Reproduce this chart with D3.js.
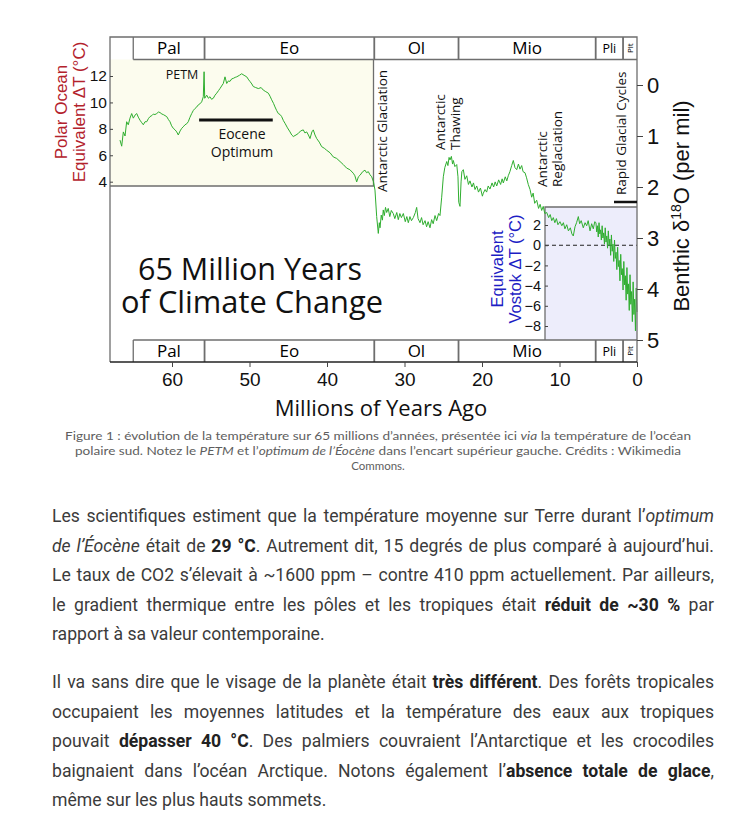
<!DOCTYPE html>
<html><head><meta charset="utf-8">
<script src="https://cdn.jsdelivr.net/npm/d3@7"></script>
<style>
body{margin:0;background:#fff;width:755px;height:833px;overflow:hidden;position:relative}
svg{position:absolute;left:0;top:0}
.para{position:absolute;left:52px;width:662px;font-family:Roboto,sans-serif;font-size:17.6px;color:#3b3b3b;line-height:29.6px}
.para div{text-align:justify;text-align-last:justify;white-space:nowrap}
.para div.last{text-align-last:left}
.para b{color:#222;font-weight:700}
</style></head>
<body>
<svg id="chart" width="755" height="480"></svg>
<div class="para" style="top:502px">
<div>Les scientifiques estiment que la température moyenne sur Terre durant l’<i>optimum</i></div>
<div><i>de l’Éocène</i> était de <b>29 °C</b>. Autrement dit, 15 degrés de plus comparé à aujourd’hui.</div>
<div>Le taux de CO2 s’élevait à ~1600 ppm – contre 410 ppm actuellement. Par ailleurs,</div>
<div>le gradient thermique entre les pôles et les tropiques était <b>réduit de ~30 %</b> par</div>
<div class="last">rapport à sa valeur contemporaine.</div>
</div>
<div class="para" style="top:668px">
<div>Il va sans dire que le visage de la planète était <b>très différent</b>. Des forêts tropicales</div>
<div>occupaient les moyennes latitudes et la température des eaux aux tropiques</div>
<div>pouvait <b>dépasser 40 °C</b>. Des palmiers couvraient l’Antarctique et les crocodiles</div>
<div>baignaient dans l’océan Arctique. Notons également l’<b>absence totale de glace</b>,</div>
<div class="last">même sur les plus hauts sommets.</div>
</div>
<script>
// ---------- DATA ----------
// Benthic δ18O record (per mil), [age Ma, value]
const paleoceneEocene = [[66.71,1.08],[66.49,1.20],[66.28,0.92],[66.06,1.00],[65.85,0.72],[65.64,0.78],[65.42,0.65],[65.20,0.56],[64.99,0.65],[64.77,0.59],[64.55,0.56],[64.35,0.63],[64.13,0.69],[63.9,0.74],[63.70,0.78],[63.48,0.72],[63.26,0.72],[63.05,0.66],[62.84,0.62],[62.6,0.60],[62.41,0.57],[62.2,0.58],[61.97,0.56],[61.75,0.53],[61.55,0.54],[61.3,0.57],[61.12,0.58],[60.9,0.60],[60.68,0.62],[60.45,0.68],[60.26,0.72],[60.05,0.80],[59.83,0.85],[59.6,0.88],[59.39,0.92],[59.19,0.98],[58.95,0.90],[58.75,0.85],[58.55,0.82],[58.32,0.78],[58.1,0.76],[57.90,0.72],[57.7,0.64],[57.46,0.56],[57.25,0.50],[57.03,0.46],[56.8,0.43],[56.61,0.39],[56.4,0.37],[56.17,0.33],[55.96,0.23],[55.86,-0.26],[55.78,0.26],[55.52,0.20],[55.3,0.26],[55.10,0.23],[54.9,0.28],[54.67,0.26],[54.45,0.20],[54.23,0.16],[54.0,0.11],[53.81,0.07],[53.6,0.02],[53.38,-0.03],[53.16,-0.16],[52.94,-0.03],[52.72,-0.08],[52.52,-0.07],[52.3,-0.12],[52.09,-0.13],[51.85,-0.15],[51.65,-0.16],[51.3,-0.19],[51.01,-0.22],[50.7,-0.19],[50.36,-0.16],[50.1,-0.10],[49.94,-0.07],[49.7,-0.02],[49.51,0.03],[49.2,0.05],[48.86,0.07],[48.5,0.05],[48.22,0.10],[47.9,0.13],[47.57,0.16],[47.35,0.22],[47.14,0.29],[46.9,0.36],[46.71,0.43],[46.5,0.50],[46.28,0.56],[46.05,0.58],[45.85,0.62],[45.62,0.70],[45.42,0.75],[45.1,0.84],[44.77,0.92],[44.55,0.98],[44.35,1.01],[44.0,0.98],[43.70,0.95],[43.4,0.90],[43.06,0.88],[42.85,0.94],[42.62,0.92],[42.4,0.98],[42.19,1.05],[41.95,0.92],[41.77,0.88],[41.55,0.98],[41.33,1.05],[41.0,1.12],[40.68,1.21],[40.35,1.24],[40.04,1.28],[39.6,1.33],[39.19,1.41],[38.75,1.44],[38.32,1.50],[37.9,1.56],[37.46,1.63],[37.05,1.66],[36.61,1.73],[36.4,1.78],[36.17,1.90],[35.95,1.80],[35.74,1.77],[35.4,1.70],[35.10,1.67],[34.9,1.72],[34.67,1.70],[34.45,1.76],[34.23,1.80],[34.0,1.90],[33.81,2.06]];
const oligocene = [[33.59,2.58],[33.38,2.91],[33.25,2.70],[33.16,2.80],[33.0,2.55],[32.85,2.65],[32.74,2.45],[32.6,2.56],[32.45,2.40],[32.3,2.50],[32.1,2.42],[31.9,2.58],[31.7,2.46],[31.45,2.52],[31.25,2.62],[31.0,2.50],[30.8,2.64],[30.6,2.52],[30.4,2.60],[30.15,2.52],[29.9,2.68],[29.7,2.58],[29.51,2.70],[29.3,2.58],[29.1,2.66],[28.86,2.60],[28.6,2.50],[28.43,2.40],[28.25,2.62],[28.0,2.70],[27.8,2.60],[27.6,2.74],[27.35,2.66],[27.15,2.78],[26.95,2.68],[26.71,2.80],[26.5,2.64],[26.3,2.72],[26.06,2.56],[25.85,2.66],[25.6,2.52],[25.42,2.56],[25.2,2.20],[24.99,1.80],[24.8,1.62],[24.55,1.50],[24.4,1.58],[24.25,1.42],[24.13,1.47],[23.95,1.40],[23.8,1.55],[23.70,1.48],[23.5,1.60],[23.26,1.56],[23.1,1.80]];
const miocene = [[23.0,2.30],[22.84,2.38],[22.7,1.90],[22.6,1.70],[22.41,1.66],[22.2,1.85],[21.97,1.78],[21.75,1.95],[21.55,1.88],[21.3,2.00],[21.1,1.92],[20.9,2.05],[20.68,1.98],[20.45,2.10],[20.2,2.02],[19.95,2.18],[19.83,2.12],[19.6,2.05],[19.4,2.10],[19.2,1.98],[18.97,2.04],[18.7,1.92],[18.5,2.00],[18.3,1.90],[18.10,1.98],[17.85,1.86],[17.6,1.95],[17.4,1.84],[17.25,1.92],[17.0,1.80],[16.8,1.88],[16.61,1.78],[16.4,1.70],[16.17,1.58],[15.96,1.48],[15.75,1.62],[15.52,1.66],[15.3,1.55],[15.1,1.65],[14.88,1.58],[14.7,1.70],[14.45,1.72],[14.25,1.82],[14.03,1.95],[13.8,2.05],[13.59,2.20],[13.4,2.12],[13.2,2.32],[12.94,2.26],[12.7,2.42],[12.5,2.34],[12.30,2.46],[12.1,2.38],[11.9,2.52],[11.65,2.50],[11.4,2.60],[11.2,2.54],[11.0,2.66],[10.80,2.60],[10.6,2.70],[10.4,2.62],[10.2,2.74],[9.94,2.68],[9.7,2.76],[9.5,2.70],[9.3,2.82],[9.07,2.74],[8.85,2.86],[8.6,2.80],[8.4,2.92],[8.22,2.96],[8.0,2.78],[7.8,2.70],[7.57,2.58],[7.4,2.72],[7.2,2.66],[6.93,2.80],[6.7,2.70],[6.49,2.76],[6.3,2.66],[6.06,2.86],[5.85,2.72],[5.64,2.82],[5.45,2.68]];
const plioPleistocene = [[5.3,2.70],[5.2,2.88],[5.1,2.76],[5.0,2.98],[4.9,2.70],[4.8,2.92],[4.7,2.84],[4.6,3.04],[4.5,2.76],[4.4,3.00],[4.3,2.90],[4.2,3.12],[4.1,2.80],[4.0,3.08],[3.9,2.96],[3.8,3.20],[3.7,2.86],[3.6,3.14],[3.5,3.02],[3.4,3.34],[3.3,2.94],[3.2,3.26],[3.1,3.12],[3.0,3.46],[2.9,3.04],[2.8,3.40],[2.7,3.28],[2.6,3.62],[2.5,3.18],[2.4,3.56],[2.3,3.44],[2.2,3.84],[2.1,3.32],[2.0,3.72],[1.9,3.60],[1.8,4.02],[1.7,3.46],[1.6,3.92],[1.5,3.74],[1.4,4.22],[1.3,3.58],[1.2,4.10],[1.1,3.90],[1.0,4.42],[0.9,3.72],[0.8,4.30],[0.7,4.05],[0.6,4.64],[0.5,3.86],[0.4,4.50],[0.3,4.20],[0.2,4.82],[0.1,3.98],[0.0,4.45]];

const epochNames = ["Pal","Eo","Ol","Mio","Pli","Plt"];
const epochStarts = [65, 55.8, 33.9, 23.03, 5.33, 1.8];
const epochEnds   = [55.8, 33.9, 23.03, 5.33, 1.8, 0];
const ageTicks = [60,50,40,30,20,10,0];
const d18OTicks = [0,1,2,3,4,5];
const polarTicks = [4,6,8,10,12];
const vostokTicks = [2,0,-2,-4,-6,-8];
const annotations = [
  {lines:["Antarctic Glaciation"], age:32.3, base:192},
  {lines:["Antarctic","Thawing"], age:24.8, base:150},
  {lines:["Antarctic","Reglaciation"], age:11.6, base:187},
  {lines:["Rapid Glacial Cycles"], age:1.4, base:195}
];

// ---------- CHART ----------
const svg = d3.select("#chart");
const L=110, R=637, T=37, B=362;
const x = d3.scaleLinear().domain([60,0]).range([172,637]);
const yD = d3.scaleLinear().domain([0,5]).range([85,340]);
const yT = d3.scaleLinear().domain([4,12]).range([181.7,76]);
const yV = d3.scaleLinear().domain([-8,2]).range([326,225]);
const numFont = "'Liberation Sans', Arial, sans-serif";
const myFont = "'Open Sans', sans-serif";
const frameC = "#6e6e6e";

// insets
svg.append("rect").attr("x",L).attr("y",59.5).attr("width",x(34)-L).attr("height",186-59.5).attr("fill","#fcfcee");
svg.append("path").attr("d",`M${x(34)},59.5V186H${L}`).attr("fill","none").attr("stroke",frameC).attr("stroke-width",1.3);
svg.append("rect").attr("x",545).attr("y",207).attr("width",R-545).attr("height",340-207).attr("fill","#ededfb");
svg.append("path").attr("d",`M545,340V207H${R}`).attr("fill","none").attr("stroke",frameC).attr("stroke-width",1.3);
svg.append("line").attr("x1",545).attr("x2",R).attr("y1",yV(0)).attr("y2",yV(0)).attr("stroke","#222").attr("stroke-dasharray","4,3").attr("stroke-width",1.1);

// data line
const all = paleoceneEocene.concat(oligocene, miocene, plioPleistocene);
const line = d3.line().x(d=>x(d[0])).y(d=>yD(d[1]));
svg.append("path").datum(all).attr("d",line).attr("fill","none").attr("stroke","#2fae2f").attr("stroke-width",1).attr("stroke-linejoin","round");

// frame
svg.append("path").attr("d",`M${L},${B}V${T}H${R}V${B}`).attr("fill","none").attr("stroke",frameC).attr("stroke-width",1.3);

// epoch bars
function epochBar(y0,y1){
  const g = svg.append("g");
  const x0 = x(epochStarts[0]);
  g.append("line").attr("x1",x0).attr("x2",R).attr("y1",y0===T?y1:y0).attr("y2",y0===T?y1:y0).attr("stroke",frameC).attr("stroke-width",1.3);
  epochStarts.forEach((s,i)=>{
    g.append("line").attr("x1",x(s)).attr("x2",x(s)).attr("y1",y0).attr("y2",y1).attr("stroke",frameC).attr("stroke-width",i===0?1.3:1.8);
    const cx = (x(s)+x(epochEnds[i]))/2, cy=(y0+y1)/2;
    const name = epochNames[i];
    if(name==="Plt"){
      g.append("text").attr("transform",`translate(${cx+3},${cy}) rotate(-90)`).attr("text-anchor","middle")
       .attr("font-family",myFont).attr("font-size",8).text(name);
    } else {
      g.append("text").attr("x",cx).attr("y",cy+ (name==="Pli"?4.5:6)).attr("text-anchor","middle")
       .attr("font-family",myFont).attr("font-size",name==="Pli"?12.5:17).text(name);
    }
  });
}
epochBar(T,59.5);
epochBar(340,B);
svg.append("line").attr("x1",L).attr("x2",R).attr("y1",B).attr("y2",B).attr("stroke","#222").attr("stroke-width",1.3);

// axes
const ax = svg.append("g").attr("transform",`translate(0,${B})`)
  .call(d3.axisBottom(x).tickValues(ageTicks).tickSize(5).tickPadding(6).tickFormat(d3.format("d")));
ax.select(".domain").remove();
ax.selectAll("text").attr("font-family",numFont).attr("font-size",19).attr("fill","#111");
ax.selectAll("line").attr("stroke","#444");

const ar = svg.append("g").attr("transform",`translate(${R},0)`)
  .call(d3.axisRight(yD).tickValues(d18OTicks).tickSize(6).tickPadding(4).tickFormat(d3.format("d")));
ar.select(".domain").remove();
ar.selectAll("text").attr("font-family",numFont).attr("font-size",22).attr("fill","#111");
ar.selectAll("line").attr("stroke","#444");

const al = svg.append("g").attr("transform",`translate(${L},0)`)
  .call(d3.axisLeft(yT).tickValues(polarTicks).tickSizeInner(-3).tickSizeOuter(0).tickPadding(3).tickFormat(d3.format("d")));
al.select(".domain").remove();
al.selectAll("text").attr("font-family",numFont).attr("font-size",15.5).attr("fill","#111");
al.selectAll("line").attr("stroke","#444");

const av = svg.append("g").attr("transform",`translate(545,0)`)
  .call(d3.axisLeft(yV).tickValues(vostokTicks).tickSizeInner(-3).tickSizeOuter(0).tickPadding(4).tickFormat(d3.format("d")));
av.select(".domain").remove();
av.selectAll("text").attr("font-family",numFont).attr("font-size",14.5).attr("fill","#111");
av.selectAll("line").attr("stroke","#444");

// axis titles
svg.append("text").attr("x",381).attr("y",416).attr("text-anchor","middle").attr("font-family",myFont).attr("font-size",22).attr("fill","#111").text("Millions of Years Ago");
const polar = svg.append("g").attr("fill","#b3222c").attr("font-family",numFont).attr("font-size",17).attr("text-anchor","middle");
polar.append("text").attr("transform","translate(67,112) rotate(-90)").text("Polar Ocean");
polar.append("text").attr("transform","translate(85,112) rotate(-90)").text("Equivalent  ΔT (°C)");
const vost = svg.append("g").attr("fill","#1d1dc4").attr("font-family",numFont).attr("font-size",16.5).attr("text-anchor","middle");
vost.append("text").attr("transform","translate(503,269) rotate(-90)").text("Equivalent");
vost.append("text").attr("transform","translate(521,269) rotate(-90)").text("Vostok  ΔT (°C)");
const ben = svg.append("text").attr("transform","translate(689,206) rotate(-90)").attr("text-anchor","middle").attr("font-family",numFont).attr("font-size",22).attr("fill","#111");
ben.append("tspan").text("Benthic δ");
ben.append("tspan").attr("dy",-8).attr("font-size",14).text("18");
ben.append("tspan").attr("dy",8).text("O (per mil)");

// annotations
annotations.forEach(a=>{
  a.lines.forEach((t,i)=>{
    svg.append("text").attr("transform",`translate(${x(a.age)+i*15},${a.base}) rotate(-90)`)
      .attr("font-family",myFont).attr("font-size",13.5).attr("fill","#111").text(t);
  });
});
svg.append("line").attr("x1",614).attr("x2",R).attr("y1",202).attr("y2",202).attr("stroke","#111").attr("stroke-width",2.5);
svg.append("text").attr("x",182).attr("y",79).attr("text-anchor","middle").attr("font-family",myFont).attr("font-size",12.5).attr("fill","#111").text("PETM");
svg.append("line").attr("x1",x(56.5)).attr("x2",x(47.0)).attr("y1",120).attr("y2",120).attr("stroke","#111").attr("stroke-width",3);
svg.append("text").attr("x",242).attr("y",139).attr("text-anchor","middle").attr("font-family",myFont).attr("font-size",14).attr("fill","#111").text("Eocene");
svg.append("text").attr("x",242).attr("y",157).attr("text-anchor","middle").attr("font-family",myFont).attr("font-size",14).attr("fill","#111").text("Optimum");

// title
svg.append("text").attr("x",250).attr("y",280).attr("text-anchor","middle").attr("font-family",myFont).attr("font-size",31).attr("fill","#111").attr("textLength",224).attr("lengthAdjust","spacingAndGlyphs").text("65 Million Years");
svg.append("text").attr("x",252).attr("y",313).attr("text-anchor","middle").attr("font-family",myFont).attr("font-size",31).attr("fill","#111").attr("textLength",262).attr("lengthAdjust","spacingAndGlyphs").text("of Climate Change");

// caption
const cap = svg.append("g").attr("font-family","Lato, sans-serif").attr("font-size",11.5).attr("fill","#5e5e5e").attr("text-anchor","middle");
const c1 = cap.append("text").attr("x",378).attr("y",440).attr("textLength",626).attr("lengthAdjust","spacingAndGlyphs");
c1.append("tspan").text("Figure 1 : évolution de la température sur 65 millions d’années, présentée ici ");
c1.append("tspan").attr("font-style","italic").text("via");
c1.append("tspan").text(" la température de l’océan");
const c2 = cap.append("text").attr("x",378).attr("y",455).attr("textLength",606).attr("lengthAdjust","spacingAndGlyphs");
c2.append("tspan").text("polaire sud. Notez le ");
c2.append("tspan").attr("font-style","italic").text("PETM");
c2.append("tspan").text(" et l’");
c2.append("tspan").attr("font-style","italic").text("optimum de l’Éocène");
c2.append("tspan").text(" dans l’encart supérieur gauche. Crédits : Wikimedia");
cap.append("text").attr("x",378).attr("y",470).text("Commons.");
</script>
</body></html>
